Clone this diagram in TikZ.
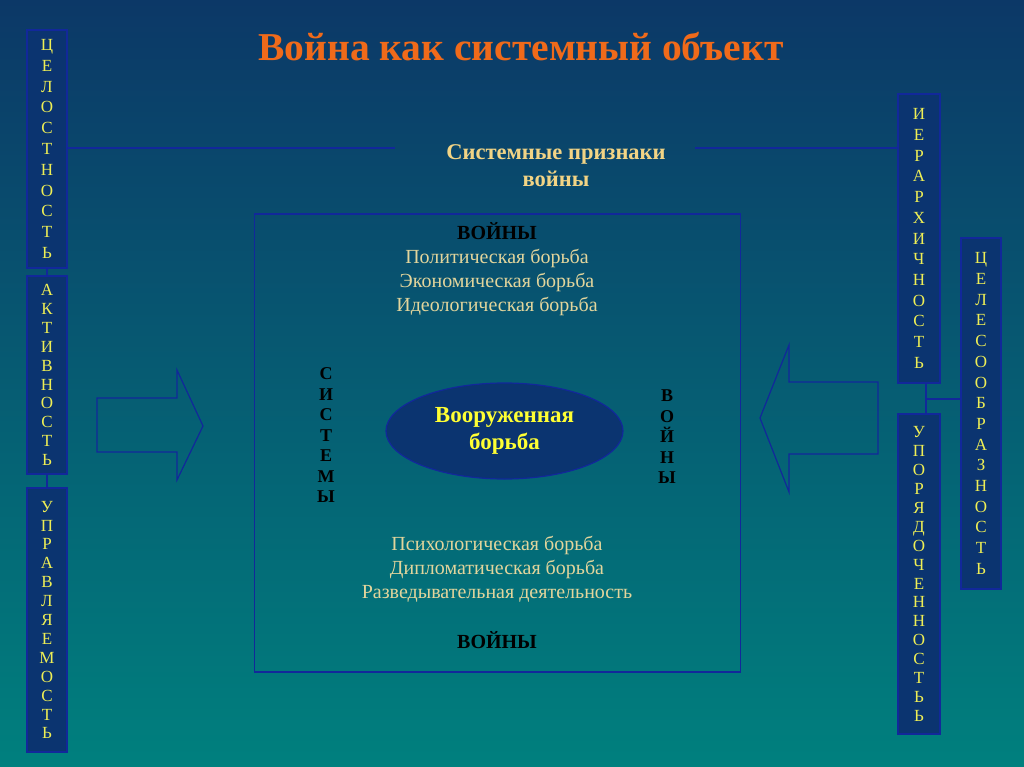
\documentclass[tikz,border=0pt]{standalone}
\usepackage{fontspec}
\setmainfont{Liberation Serif}
\usetikzlibrary{shapes.geometric}
\definecolor{bgtop}{HTML}{0C3867}
\definecolor{bgbot}{HTML}{00807E}
\definecolor{boxfill}{HTML}{0B3470}
\definecolor{linecol}{HTML}{12289A}
\definecolor{lettercol}{HTML}{EEEE55}
\definecolor{tancol}{HTML}{E2D59C}
\definecolor{headcol}{HTML}{F2D485}
\definecolor{titlecol}{HTML}{F06A1A}
\definecolor{ovaltext}{HTML}{FFFF33}
\tikzset{
  vbox/.style={draw=linecol, line width=1.2pt, fill=boxfill, inner sep=0pt, minimum width=40, align=center, text=lettercol},
  conn/.style={draw=linecol, line width=1.2pt},
  bigarrow/.style={draw=linecol, line width=1.2pt, line join=miter},
  bodytext/.style={text=tancol, align=center, font=\fontsize{20}{24}\selectfont},
  vletters/.style={align=center, text=black, font=\fontsize{18}{20.5}\selectfont\bfseries}
}
\begin{document}
\begin{tikzpicture}[x=1pt,y=-1pt]
\shade[top color=bgtop, bottom color=bgbot] (0,0) rectangle (1024,767);
\useasboundingbox (0,0) rectangle (1024,767);

% title
\node[text=titlecol, font=\fontsize{39.5}{42}\selectfont\bfseries] (title) at (521,47) {Война как системный объект};
\node[text=headcol, align=center, font=\fontsize{22.5}{27}\selectfont\bfseries] (sp) at (556,165.5) {Системные признаки\\войны};

% left boxes
\node[vbox, minimum height=238, font=\fontsize{17}{20.8}\selectfont] (c1) at (47,149) {Ц\\Е\\Л\\О\\С\\Т\\Н\\О\\С\\Т\\Ь};
\node[vbox, minimum height=198, font=\fontsize{17}{18.9}\selectfont] (c2) at (47,375) {А\\К\\Т\\И\\В\\Н\\О\\С\\Т\\Ь};
\node[vbox, minimum height=264, font=\fontsize{17}{18.9}\selectfont] (c3) at (47,620) {У\\П\\Р\\А\\В\\Л\\Я\\Е\\М\\О\\С\\Т\\Ь};
\draw[conn] (c1.south) -- (c2.north);
\draw[conn] (c2.south) -- (c3.north);

% right boxes
\node[vbox, minimum width=42, minimum height=289, font=\fontsize{17}{20.7}\selectfont] (h) at (919,238.5) {И\\Е\\Р\\А\\Р\\Х\\И\\Ч\\Н\\О\\С\\Т\\Ь};
\node[vbox, minimum height=351, font=\fontsize{17}{20.7}\selectfont] (ts) at (981,413.5) {Ц\\Е\\Л\\Е\\С\\О\\О\\Б\\Р\\А\\З\\Н\\О\\С\\Т\\Ь};
\node[vbox, minimum width=42, minimum height=320, font=\fontsize{17}{18.9}\selectfont] (u) at (919,574) {У\\П\\О\\Р\\Я\\Д\\О\\Ч\\Е\\Н\\Н\\О\\С\\Т\\Ь\\Ь};
\draw[conn] ([xshift=7pt]h.south) -- ([xshift=7pt]u.north);
\coordinate (j) at (926,399);
\draw[conn] (j) -- (ts.west |- j);

% horizontal lines to the heading
\coordinate (lL) at (395,148);
\coordinate (lR) at (695,148);
\draw[conn] (c1.east |- lL) -- (lL);
\draw[conn] (lR) -- (h.west |- lR);

% main frame
\node[draw=linecol, line width=1.2pt, minimum width=486, minimum height=458, inner sep=0pt] (frame) at (497.5,443) {};

\node[bodytext] (top) at (497,269) {{\bfseries\color{black}ВОЙНЫ}\\Политическая борьба\\Экономическая борьба\\Идеологическая борьба};
\node[bodytext] (bot) at (497,569) {Психологическая борьба\\Дипломатическая борьба\\Разведывательная деятельность};
\node[text=black, font=\fontsize{20}{24}\selectfont\bfseries] (bw) at (497,640) {ВОЙНЫ};

\node[vletters] (sys) at (326,435.5) {С\\И\\С\\Т\\Е\\М\\Ы};
\node[vletters] (voi) at (667,437) {В\\О\\Й\\Н\\Ы};

% central oval
\node[ellipse, draw=linecol, line width=1.2pt, fill=boxfill, minimum width=237, minimum height=96, inner sep=0pt, align=center, text=ovaltext, font=\fontsize{23}{27}\selectfont\bfseries] (oval) at (504.5,431) {Вооруженная\\борьба};

% big arrows
\draw[bigarrow] (97,398) -- (177,398) -- (177,370) -- (203,426) -- (177,480) -- (177,452) -- (97,452) -- cycle;
\draw[bigarrow] (878,382) -- (789,382) -- (789,345) -- (760,418) -- (789,492) -- (789,454) -- (878,454) -- cycle;
\end{tikzpicture}
\end{document}
